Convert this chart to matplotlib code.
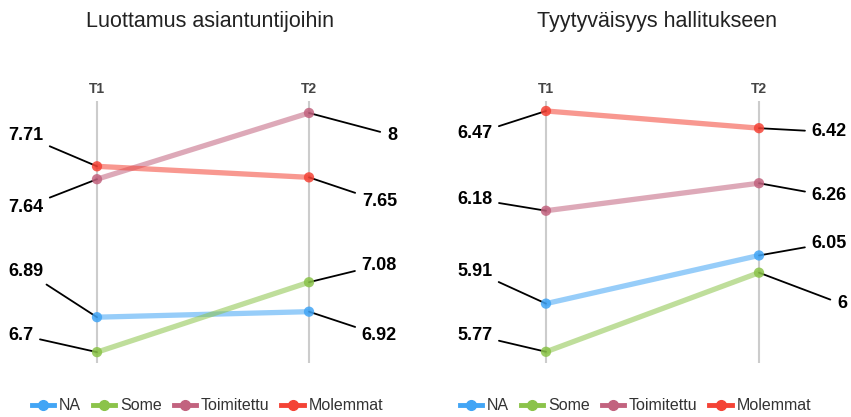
import matplotlib.pyplot as plt
from matplotlib.lines import Line2D

plt.rcParams['font.family'] = ['Liberation Sans', 'DejaVu Sans']

series = ['NA', 'Some', 'Toimitettu', 'Molemmat']
colors = ['#42a5f5', '#8bc34a', '#c2637f', '#f44336']
times = ['T1', 'T2']

titles = ['Luottamus asiantuntijoihin', 'Tyytyväisyys hallitukseen']

# mean scores per group, T1 and T2
trust_t1 = [6.89, 6.70, 7.64, 7.71]
trust_t2 = [6.92, 7.08, 8.00, 7.65]
satisf_t1 = [5.91, 5.77, 6.18, 6.47]
satisf_t2 = [6.05, 6.00, 6.26, 6.42]

# label rows (figure pixels from the top) so the callouts don't collide
trust_lab_t1 = [269, 333, 205, 134]
trust_lab_t2 = [333, 263, 133, 199]
satisf_lab_t1 = [269, 333, 197, 132]
satisf_lab_t2 = [241, 302, 194, 130]

W, H = 851, 417
fig = plt.figure(figsize=(W / 100, H / 100), dpi=100)

panels = [
    (titles[0], trust_t1, trust_t2, trust_lab_t1, trust_lab_t2,
     0, 425, 97, 309, (6.641, 8.065), 210),
    (titles[1], satisf_t1, satisf_t2, satisf_lab_t1, satisf_lab_t2,
     430, 851, 546, 759, (5.7374, 6.499), 657),
]

top_px, bot_px = 101, 363

for (title, t1, t2, lab1, lab2, x0, x1, px1, px2, ylim, tx) in panels:
    ax = fig.add_axes([x0 / W, (H - bot_px) / H, (x1 - x0) / W, (bot_px - top_px) / H])
    span = px2 - px1
    ax.set_xlim(-(px1 - x0) / span, (x1 - px1) / span)
    ax.set_ylim(*ylim)
    ax.axis('off')

    for xi in (0, 1):
        ax.axvline(xi, color='#cccccc', lw=1.5, zorder=0)
        ax.text(xi, 1.02, times[xi], transform=ax.get_xaxis_transform(),
                ha='center', va='bottom', fontsize=10, fontweight='bold',
                color='#444444')

    for i, name in enumerate(series):
        ax.plot([0, 1], [t1[i], t2[i]], color=colors[i], lw=3.8, alpha=0.55,
                solid_capstyle='round', zorder=2)
        ax.scatter([0, 1], [t1[i], t2[i]], s=55, color=colors[i], alpha=0.85,
                   edgecolors='none', zorder=3)

        for xi, v, ly, side in ((0, t1[i], lab1[i], 'left'), (1, t2[i], lab2[i], 'right')):
            lx = px1 - 89 if xi == 0 else px2 + 88
            ax.annotate(f'{v:g}', xy=(xi, v), xytext=(lx, H - ly),
                        textcoords='figure pixels', ha=side, va='center_baseline',
                        fontsize=13, fontweight='bold', color='black',
                        arrowprops=dict(arrowstyle='-', color='black', lw=1.3,
                                        shrinkA=3, shrinkB=0), zorder=2.5)

    fig.text(tx / W, 1 - 21 / H, title, ha='center', va='center',
             fontsize=15.5, color='#222222')

    handles = [Line2D([], [], color=c, lw=3.5, marker='o', markersize=7) for c in colors]
    fig.legend(handles, series, loc='center', bbox_to_anchor=((x0 + x1) / 2 / W - 0.006, 1 - 406 / H),
               ncol=4, frameon=False, fontsize=11.5, handlelength=1.4,
               handletextpad=0.3, columnspacing=0.75, labelcolor='#333333')

fig.savefig('out.png', dpi=100)
